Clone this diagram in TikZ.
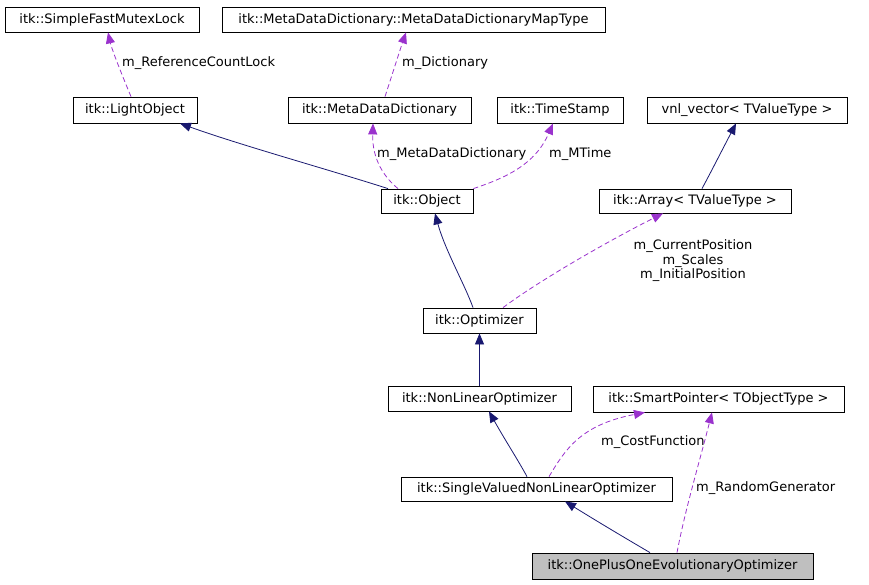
\documentclass[tikz,border=0pt]{standalone}
\usepackage{fontspec}
\setmainfont{DejaVu Sans}
\usetikzlibrary{arrows.meta}
\definecolor{navyc}{HTML}{191970}
\definecolor{purp}{HTML}{9A32CD}
\begin{document}
\begin{tikzpicture}[x=1pt,y=-1pt,
  every node/.style={font=\fontsize{13}{15}\selectfont},
  cls/.style={draw=black,line width=0.8pt,inner sep=0pt,minimum height=25pt,fill=white},
  inh/.style={draw=navyc,line width=0.8pt,-{Triangle[length=11pt,width=9pt]}},
  use/.style={draw=purp,line width=0.8pt,dash pattern=on 5pt off 3pt,-{Triangle[length=11pt,width=9pt]}},
  lbl/.style={inner sep=0pt}]
\useasboundingbox (0,0) rectangle (869,584);
% classes
\node[cls,minimum width=194pt] (sfm) at (102,19.5) {itk::SimpleFastMutexLock};
\node[cls,minimum width=383pt] (map) at (413.5,19.5) {itk::MetaDataDictionary::MetaDataDictionaryMapType};
\node[cls,minimum width=124pt,minimum height=26pt] (lo) at (135,110) {itk::LightObject};
\node[cls,minimum width=183pt,minimum height=26pt] (mdd) at (379.5,110) {itk::MetaDataDictionary};
\node[cls,minimum width=126pt,minimum height=26pt] (ts) at (560,110) {itk::TimeStamp};
\node[cls,minimum width=200pt,minimum height=26pt] (vnl) at (747,110) {vnl\_vector< TValueType >};
\node[cls,minimum width=92pt,minimum height=24pt] (obj) at (427,201) {itk::Object};
\node[cls,minimum width=192pt,minimum height=24pt] (arr) at (695,201) {itk::Array< TValueType >};
\node[cls,minimum width=113pt] (opt) at (479.5,320.5) {itk::Optimizer};
\node[cls,minimum width=183pt] (nlo) at (479.5,398.5) {itk::NonLinearOptimizer};
\node[cls,minimum width=251pt,minimum height=26pt] (sp) at (718.5,399) {itk::SmartPointer< TObjectType >};
\node[cls,minimum width=271pt,minimum height=24pt] (sv) at (536.5,489) {itk::SingleValuedNonLinearOptimizer};
\node[cls,minimum width=281pt,minimum height=26pt,fill={rgb,255:red,191;green,191;blue,191}] (op) at (672.5,566) {itk::OnePlusOneEvolutionaryOptimizer};
% connectors
\draw[use] ([xshift=-4pt]lo.north) .. controls (122,75) and (112,50) .. ([xshift=6pt]sfm.south);
\node[lbl,anchor=west] (l1) at (122,63) {m\_ReferenceCountLock};
\draw[use] ([xshift=5.5pt]mdd.north) .. controls (392,75) and (400,50) .. ([xshift=-7.5pt]map.south);
\node[lbl,anchor=west] (l2) at (402,63) {m\_Dictionary};
\draw[inh] ([xshift=-39pt]obj.north) .. controls (330,170) and (240,145) .. ([xshift=45pt]lo.south);
\draw[use] ([xshift=-29pt]obj.north) .. controls (385,178) and (372,160) .. ([xshift=-6.5pt]mdd.south);
\node[lbl,anchor=west] (l3) at (377,154) {m\_MetaDataDictionary};
\draw[use] (obj.north east) .. controls (505,178) and (535,165) .. ([xshift=-7pt]ts.south);
\node[lbl,anchor=west] (l4) at (549,154) {m\_MTime};
\draw[inh] ([xshift=7pt]arr.north) .. controls (712,170) and (718,158) .. ([xshift=-11pt]vnl.south);
\draw[inh] ([xshift=-6.5pt]opt.north) .. controls (465,285) and (445,250) .. ([xshift=8pt]obj.south);
\draw[use] ([xshift=23.5pt]opt.north) .. controls (540,280) and (610,240) .. ([xshift=-32pt]arr.south);
\node[lbl,align=center,anchor=north] (l5) at (693,239.5) {m\_CurrentPosition\\[-0.5pt]m\_Scales\\[-0.5pt]m\_InitialPosition};
\draw[inh] (nlo.north) -- (opt.south);
\draw[inh] ([xshift=-9.5pt]sv.north) .. controls (518,460) and (505,440) .. ([xshift=9.5pt]nlo.south);
\draw[use] ([xshift=12.5pt]sv.north) .. controls (565,450) and (580,425) .. ([xshift=-73.5pt]sp.south);
\node[lbl,anchor=west] (l6) at (601,442) {m\_CostFunction};
\draw[inh] ([xshift=-22.5pt]op.north) .. controls (620,535) and (595,520) .. ([xshift=28.5pt]sv.south);
\draw[use] ([xshift=4.5pt]op.north) .. controls (685,510) and (700,460) .. ([xshift=-6.5pt]sp.south);
\node[lbl,anchor=west] (l7) at (696,488) {m\_RandomGenerator};
\end{tikzpicture}
\end{document}
